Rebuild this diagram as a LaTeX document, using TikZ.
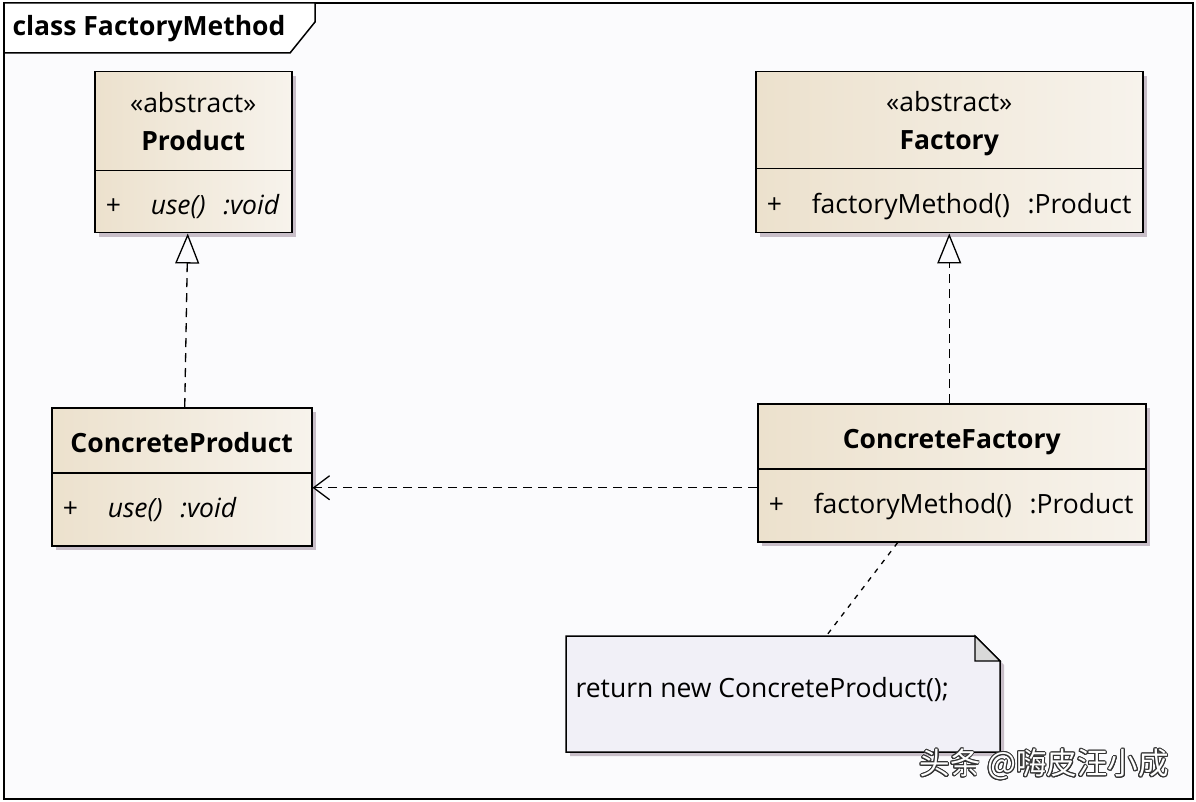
\documentclass[tikz,border=0pt]{standalone}
\usepackage{fontspec}
\setmainfont{Open Sans}
\newfontfamily\cjkfont{Noto Sans CJK SC}
\usepackage{contour}
\usetikzlibrary{arrows.meta, shadows}

\definecolor{classfill}{RGB}{236,225,205}
\definecolor{classlight}{RGB}{247,243,236}
\definecolor{notefill}{RGB}{241,240,247}
\definecolor{pagefill}{RGB}{251,251,253}
\definecolor{shadowgray}{RGB}{200,190,200}

\tikzstyle{classhead} = [rectangle, anchor=north west, draw=black, line width=1.5pt, left color=classfill, right color=classlight, drop shadow={shadow xshift=4pt, shadow yshift=-4pt, fill=shadowgray, opacity=1}, inner sep=0pt, align=center, text depth=0pt, font=\fontsize{26.5}{38}\selectfont]
\tikzstyle{classops} = [rectangle, anchor=north west, draw=black, line width=1.5pt, left color=classfill, right color=classlight, drop shadow={shadow xshift=4pt, shadow yshift=-4pt, fill=shadowgray, opacity=1}, inner xsep=11pt, inner ysep=0pt, align=left, text depth=6pt, font=\fontsize{26.5}{32}\selectfont]
\tikzstyle{realize} = [line width=1.3pt, dash pattern=on 9pt off 6pt, -{Triangle[open, length=30pt, width=24pt, line width=1.3pt]}]
\tikzstyle{depend} = [line width=1.3pt, dash pattern=on 9pt off 6pt, -{Straight Barb[length=16pt, width=24pt, line width=1.3pt]}]
\tikzstyle{notelink} = [line width=1.3pt, dash pattern=on 5pt off 6pt]

\newcommand{\member}[1]{\makebox[45pt][l]{+}#1}

\begin{document}
\begin{tikzpicture}[x=1pt, y=-1pt]

% page and frame
\fill[white] (0,0) rectangle (1196,802);
\useasboundingbox (0,0) rectangle (1196,802);
\draw[line width=1.8pt, fill=pagefill] (4,3) rectangle (1193,799);
\draw[line width=1.5pt, fill=white] (4,3) -- (315,3) -- (315,22) -- (290,53) -- (4,53) -- cycle;
\node (title) [anchor=west, font=\fontsize{26.5}{30}\selectfont\bfseries] at (9,29) {class FactoryMethod};

% abstract classes
\node (product) [classhead, minimum width=197pt, minimum height=99pt] at (94,71) {\guillemotleft abstract\guillemotright\\\textbf{Product}};
\node (productops) [classops, text width=175pt, minimum height=62pt, text height=32pt] at (94,170) {\member{\textit{use()\ \ :void}}};

\node (factory) [classhead, minimum width=387pt, minimum height=97pt] at (755,71) {\guillemotleft abstract\guillemotright\\\textbf{Factory}};
\node (factoryops) [classops, text width=365pt, minimum height=64pt, text height=32pt] at (755,168) {\member{factoryMethod()\ \ :Product}};

% concrete classes
\node (cproduct) [classhead, minimum width=260pt, minimum height=65pt, text height=24.5pt] at (51,407) {\textbf{ConcreteProduct}};
\node (cproductops) [classops, text width=238pt, minimum height=73pt, text height=23pt] at (51,472) {\member{\textit{use()\ \ :void}}};

\node (cfactory) [classhead, minimum width=388pt, minimum height=65pt, text height=24.5pt] at (757,403) {\textbf{ConcreteFactory}};
\node (cfactoryops) [classops, text width=366pt, minimum height=73pt, text height=23pt] at (757,468) {\member{factoryMethod()\ \ :Product}};

% note
\fill[shadowgray] (570,640) -- (979,640) -- (1004,665) -- (1004,756) -- (570,756) -- cycle;
\draw[line width=1.5pt, fill=notefill] (566,636) -- (975,636) -- (1000,661) -- (1000,752) -- (566,752) -- cycle;
\draw[line width=1.2pt, fill=gray!30] (975,636) -- (975,661) -- (1000,661) -- cycle;
\node (note) [anchor=north west, minimum width=434pt, minimum height=116pt, inner sep=0pt] at (566,636) {};
\node (notetext) [anchor=west, font=\fontsize{26.5}{30}\selectfont] at (572,690) {return new ConcreteProduct();};

% relations
\draw [realize] ([xshift=3pt]cproduct.north) -- ([xshift=-5.5pt]productops.south);
\draw [realize] (cfactory.north -| factoryops.south) -- (factoryops.south);
\draw [depend] ([yshift=17.5pt]cfactoryops.west) -- ([yshift=17.5pt]cfactoryops.west -| cproductops.east);
\draw [notelink] ([xshift=-54pt]cfactoryops.south) -- ([xshift=43pt]note.north);

% watermark
\node (watermark) [anchor=west, font=\cjkfont\fontsize{30.5}{34}\selectfont] at (916,765) {\contour{black!80}{\color{white}头条 @嗨皮汪小成}};

\end{tikzpicture}
\end{document}
